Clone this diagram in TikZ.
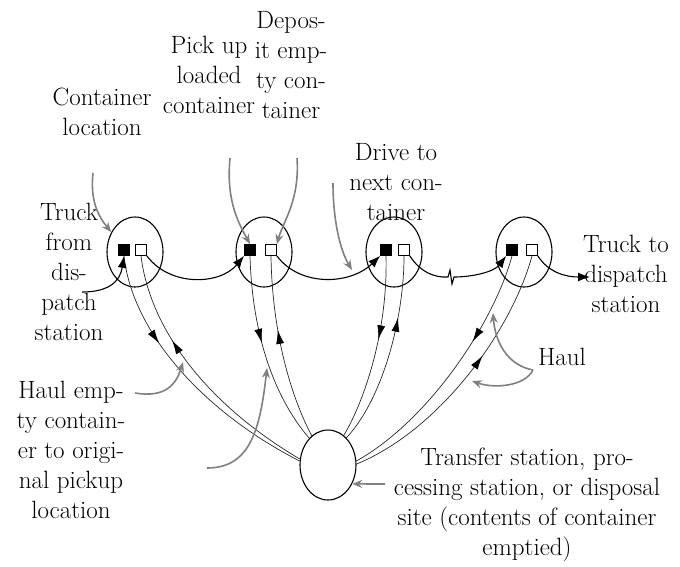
\documentclass[tikz,border=0pt]{standalone}
\usetikzlibrary{shapes.geometric,arrows.meta,decorations.markings}
\definecolor{annc}{RGB}{128,128,128}
\definecolor{thinc}{RGB}{40,40,40}
\begin{document}
\begin{tikzpicture}[x=1pt,y=-1pt,
 site/.style={draw,ellipse,line width=1.1pt,minimum width=56pt,minimum height=70pt,inner sep=0pt},
 blk/.style={draw,fill=black,minimum size=11pt,inner sep=0pt,line width=0.7pt},
 wht/.style={draw,fill=white,minimum size=11pt,inner sep=0pt,line width=0.7pt},
 route/.style={line width=1.1pt,-{Latex[length=12pt,width=9pt]}},
 ann/.style={draw=annc,line width=1.6pt,-{Stealth[length=10pt,width=8pt]}},
 haul/.style={draw=thinc,line width=0.7pt,decoration={markings,mark=at position #1 with {\arrow[black]{Latex[length=14pt,width=8pt]}}},postaction={decorate}},
 lbl/.style={font=\fontsize{25}{30}\selectfont,align=center,inner sep=0pt,anchor=north}]
\useasboundingbox (0,0) rectangle (680,566);

% sites
\node[site] (t1) at (135,252) {};
\node[site] (t2) at (264,252) {};
\node[site] (t3) at (394,252) {};
\node[site] (t4) at (524,252) {};
\node[site] (disp) at (328,465) {};

% squares
\node[blk] (b1) at (124,250) {};
\node[wht] (w1) at (141,250) {};
\node[blk] (b2) at (250,250) {};
\node[wht] (w2) at (271,250) {};
\node[blk] (b3) at (386,250) {};
\node[wht] (w3) at (404,250) {};
\node[blk] (b4) at (512,250) {};
\node[wht] (w4) at (532,250) {};

% labels
\node[lbl] (lcl) at (102,84) {\strut Container\\\strut location};
\node[lbl] (lpu) at (209,32) {\strut Pick up\\\strut loaded\\\strut container};
\node[lbl] (ldep) at (291,7) {\strut Depos-\\\strut it emp-\\\strut ty con-\\\strut tainer};
\node[lbl] (ldr) at (396,139) {\strut Drive to\\\strut next con-\\\strut tainer};
\node[lbl] (ltf) at (69,199) {\strut Truck\\\strut from\\\strut dis-\\\strut patch\\\strut station};
\node[lbl] (ltt) at (626,231) {\strut Truck to\\\strut dispatch\\\strut station};
\node[lbl] (lh) at (562,344) {\strut Haul};
\node[lbl] (lhe) at (71,377) {\strut Haul emp-\\\strut ty contain-\\\strut er to origi-\\\strut nal pickup\\\strut location};
\node[lbl] (ltr) at (527,444) {\strut Transfer station, pro-\\\strut cessing station, or disposal\\\strut site (contents of container\\\strut emptied)};

% haul lines between sites and disposal
\draw[haul=0.34] (b1.south) .. controls (132,330) and (200,410) .. (disp.172);
\draw[haul=0.66] (disp.168) .. controls (208,405) and (150,330) .. (w1.south);
\draw[haul=0.45] (b2.south) .. controls (252,330) and (272,395) .. (disp.125);
\draw[haul=0.6] (disp.119) .. controls (290,395) and (272,330) .. (w2.south);
\draw[haul=0.45] (b3.south) .. controls (388,330) and (365,400) .. (disp.62);
\draw[haul=0.68] (disp.56) .. controls (382,400) and (404,320) .. (w3.south);
\draw[haul=0.36] (b4.south) .. controls (495,320) and (430,420) .. (disp.8);
\draw[haul=0.6] (disp.2) .. controls (440,430) and (512,330) .. (w4.south);

% truck route
\coordinate (tin) at (82,292);
\coordinate (tout) at (590,277);
\draw[route] (tin) .. controls (108,292) and (120,282) .. (b1.south);
\draw[route] (w1.south east) .. controls (170,287) and (220,285) .. (b2.south west);
\draw[route] (w2.south east) .. controls (300,287) and (350,285) .. (b3.south west);
\draw[route] (w3.south east) .. controls (420,272) and (435,278) .. (448,277) -- (450,270) -- (452,284) -- (454,277) .. controls (472,277) and (494,272) .. (b4.south west);
\draw[route] (w4.south east) .. controls (548,272) and (565,277) .. (tout);

% annotation arrows
\coordinate (a1) at (93,173);
\draw[ann] (a1) .. controls (90,200) and (98,216) .. (t1.140);
\coordinate (a2) at (230,158);
\draw[ann] (a2) .. controls (226,200) and (238,222) .. (b2.north);
\coordinate (a3) at (297,158);
\draw[ann] (a3) .. controls (300,200) and (283,222) .. (w2.north east);
\coordinate (a4) at (333,183);
\coordinate (a4e) at (352,270);
\draw[ann] (a4) .. controls (333,220) and (340,250) .. (a4e);
\coordinate (h0) at (533,370);
\coordinate (h1) at (493,313);
\coordinate (h2) at (472,381);
\draw[ann] (h0) .. controls (506,365) and (495,340) .. (h1);
\draw[ann] (h0) .. controls (525,386) and (495,389) .. (h2);
\coordinate (e0) at (135,393);
\coordinate (e1) at (183,362);
\draw[ann] (e0) .. controls (165,398) and (176,385) .. (e1);
\coordinate (e2) at (207,468);
\coordinate (e3) at (267,368);
\draw[ann] (e2) .. controls (250,468) and (260,430) .. (e3);
\coordinate (tr0) at (385,484);
\draw[ann] (tr0) -- (disp.-38);
\end{tikzpicture}
\end{document}
